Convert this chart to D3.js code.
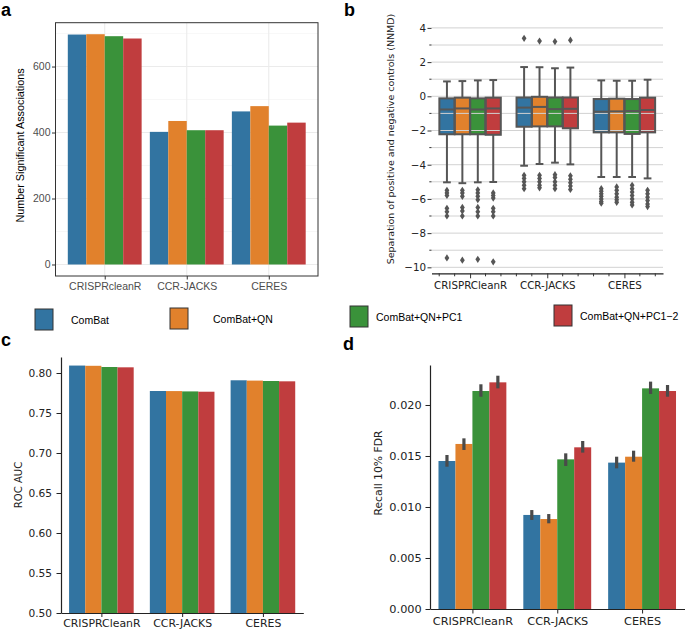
<!DOCTYPE html>
<html><head><meta charset="utf-8">
<script src="https://cdn.jsdelivr.net/npm/d3@7"></script>
<style>body{margin:0;background:#fff} svg{display:block}</style>
</head><body>
<svg id="chart" width="685" height="630"></svg>
<script>
// ---------------- DATA ----------------
const categoriesA = ["CRISPRcleanR", "CCR-JACKS", "CERES"];
const categories = ["CRISPRCleanR", "CCR-JACKS", "CERES"];
const methods = ["ComBat", "ComBat+QN", "ComBat+QN+PC1", "ComBat+QN+PC1\u22122"];
const colors = ["#3274a1", "#e1812c", "#3a923a", "#c03d3e"];

// panel a: Number Significant Associations [category][method]
const assocValues = [[697, 698, 692, 685], [402, 435, 407, 407], [464, 480, 421, 430]];
const aMajorTicks = [0, 200, 400, 600];
const aMinorTicks = [100, 300, 500, 700];

// panel b: boxplot stats [category][method]
const boxWhiskerHigh = [[0.87, 0.89, 0.93, 0.95], [1.71, 1.70, 1.64, 1.68], [0.93, 0.91, 0.91, 0.97]];
const boxQ3 = [[-0.12, -0.08, -0.12, -0.08], [-0.07, -0.03, -0.07, -0.07], [-0.16, -0.14, -0.16, -0.08]];
const boxMedian = [[-0.77, -0.71, -0.77, -0.71], [-0.66, -0.62, -0.75, -0.73], [-0.9, -0.88, -0.86, -0.8]];
const boxQ1 = [[-2.22, -2.22, -2.22, -2.25], [-1.78, -1.76, -1.76, -1.87], [-2.11, -2.11, -2.2, -2.11]];
const boxWhiskerLow = [[-5.03, -5.08, -5.03, -5.01], [-4.06, -3.96, -3.88, -3.98], [-4.72, -4.72, -4.72, -4.8]];
const boxOutliers = [
  [[-5.5, -5.65, -5.8, -6.55, -6.75, -7.0, -9.45],
   [-5.5, -5.65, -5.85, -6.5, -6.7, -7.0, -9.58],
   [-5.47, -5.65, -5.85, -6.05, -6.5, -6.75, -7.0, -9.53],
   [-5.65, -5.8, -5.95, -6.55, -6.75, -7.0, -9.68]],
  [[3.39, -4.62, -4.8, -5.0, -5.2, -5.4],
   [3.23, -4.62, -4.8, -5.0, -5.2, -5.35],
   [3.2, -4.58, -4.75, -5.0, -5.2, -5.4],
   [3.28, -4.65, -4.85, -5.05, -5.25, -5.45]],
  [[-5.4, -5.55, -5.7, -5.85, -6.0, -6.15, -6.25],
   [-5.3, -5.5, -5.7, -5.9, -6.05, -6.2],
   [-5.2, -5.4, -5.6, -5.8, -6.0, -6.2, -6.35],
   [-5.5, -5.7, -5.9, -6.1, -6.3, -6.45]]
];
const bTicks = [-10, -8, -6, -4, -2, 0, 2, 4];
const bMinorTicks = [-9, -7, -5, -3, -1, 1, 3];
const bGrid = [-10, -9, -8, -7, -6, -5, -4, -3, -2, -1, 0, 1, 2, 3, 4];

// panel c: ROC AUC
const rocValues = [[0.8093, 0.8090, 0.8075, 0.8071], [0.7775, 0.7774, 0.7770, 0.7766], [0.7909, 0.7905, 0.7900, 0.7896]];
const cTicks = [0.50, 0.55, 0.60, 0.65, 0.70, 0.75, 0.80];

// panel d: Recall 10% FDR with error bars
const recallValues = [[0.01451, 0.01618, 0.02137, 0.02222], [0.00922, 0.00882, 0.01467, 0.01585], [0.01435, 0.01493, 0.02163, 0.02137]];
const recallLow = [[0.01395, 0.01559, 0.02081, 0.02163], [0.00873, 0.0084, 0.01402, 0.01533], [0.01379, 0.01444, 0.02108, 0.02081]];
const recallHigh = [[0.0151, 0.01673, 0.02203, 0.02287], [0.0097, 0.00931, 0.01526, 0.01647], [0.01493, 0.01552, 0.02229, 0.02196]];
const dTicks = [0.000, 0.005, 0.010, 0.015, 0.020];

// ---------------- DRAW ----------------
const svg = d3.select("#chart");
const SANS = "'Liberation Sans', Arial, sans-serif";
const DJV = "'DejaVu Sans', sans-serif";

function flatBars(values) {
  const out = [];
  values.forEach((row, i) => row.forEach((v, j) => out.push({i, j, v})));
  return out;
}

// panel letters
const letters = [["a", 1, 16], ["b", 344, 16], ["c", 1, 346], ["d", 343, 350]];
svg.selectAll("text.plabel").data(letters).join("text").attr("class", "plabel")
  .attr("x", d => d[1]).attr("y", d => d[2]).text(d => d[0])
  .attr("font-family", SANS).attr("font-weight", "bold").attr("font-size", 18).attr("fill", "#000");

// ===== Panel a (ggplot style) =====
(function () {
  const L = 55.5, R = 318, T = 22.7, B = 276;
  const g = svg.append("g");
  const x = d3.scalePoint().domain(categoriesA).range([L, R]).padding(0.6);
  const step = x.step();
  const maxV = d3.max(assocValues.flat());
  const y = d3.scaleLinear().domain([-0.05 * maxV, maxV * 1.05]).range([B, T]);
  g.selectAll("line.minor").data(aMinorTicks).join("line")
    .attr("x1", L).attr("x2", R).attr("y1", d => y(d)).attr("y2", d => y(d))
    .attr("stroke", "#f2f2f2").attr("stroke-width", 0.6);
  g.selectAll("line.major").data(aMajorTicks).join("line")
    .attr("x1", L).attr("x2", R).attr("y1", d => y(d)).attr("y2", d => y(d))
    .attr("stroke", "#ebebeb").attr("stroke-width", 1.1);
  g.selectAll("line.vmajor").data(categoriesA).join("line")
    .attr("x1", d => x(d)).attr("x2", d => x(d)).attr("y1", T).attr("y2", B)
    .attr("stroke", "#ebebeb").attr("stroke-width", 1.1);
  const bw = 0.9 * step / 4;
  g.selectAll("rect.bar").data(flatBars(assocValues)).join("rect")
    .attr("x", d => x(categoriesA[d.i]) - 0.45 * step + d.j * bw)
    .attr("width", bw).attr("y", d => y(d.v)).attr("height", d => y(0) - y(d.v))
    .attr("fill", d => colors[d.j]);
  g.append("rect").attr("x", L).attr("y", T).attr("width", R - L).attr("height", B - T)
    .attr("fill", "none").attr("stroke", "#333").attr("stroke-width", 1);
  const ya = g.append("g").attr("transform", `translate(${L},0)`)
    .call(d3.axisLeft(y).tickValues(aMajorTicks).tickSize(3.5).tickPadding(1.5));
  ya.select(".domain").remove();
  ya.selectAll("line").attr("stroke", "#333");
  ya.selectAll("text").attr("fill", "#4d4d4d").attr("font-family", SANS).attr("font-size", 10.5);
  const xa = g.append("g").attr("transform", `translate(0,${B})`)
    .call(d3.axisBottom(x).tickSize(3.5).tickPadding(3));
  xa.select(".domain").remove();
  xa.selectAll("line").attr("stroke", "#333");
  xa.selectAll("text").attr("fill", "#4d4d4d").attr("font-family", SANS).attr("font-size", 10.5);
  g.append("text").attr("transform", "rotate(-90)").attr("x", -145.5).attr("y", 24)
    .attr("text-anchor", "middle").attr("font-family", SANS).attr("font-size", 10.8)
    .attr("fill", "#000").text("Number Significant Associations");
})();

// ===== Panel b (boxplots) =====
(function () {
  const L = 431.5, R = 663, T = 19.35, B = 273.3;
  const g = svg.append("g");
  const x = d3.scalePoint().domain(categories).range([L, R]).padding(0.5);
  const step = x.step();
  const y = d3.scaleLinear().domain([-10.35, 4.5]).range([B, T]);
  const bw = 0.8 * step / 4;
  const boxes = [];
  categories.forEach((c, i) => methods.forEach((m, j) => boxes.push({
    i, j, cx: x(c) - 0.4 * step + (j + 0.5) * bw,
    wh: boxWhiskerHigh[i][j], q3: boxQ3[i][j], med: boxMedian[i][j], q1: boxQ1[i][j],
    wl: boxWhiskerLow[i][j], out: boxOutliers[i][j]
  })));
  const grey = "#565656";
  const bwi = bw * 0.98;
  g.selectAll("rect.fill").data(boxes).join("rect")
    .attr("x", d => d.cx - bwi / 2).attr("width", bwi)
    .attr("y", d => y(d.q3)).attr("height", d => y(d.q1) - y(d.q3))
    .attr("fill", d => colors[d.j]);
  g.selectAll("line.grid").data(bGrid).join("line")
    .attr("x1", L).attr("x2", R).attr("y1", d => y(d)).attr("y2", d => y(d))
    .attr("stroke", "#d2d2d2").attr("stroke-width", 1);
  g.selectAll("line.wup").data(boxes).join("line")
    .attr("x1", d => d.cx).attr("x2", d => d.cx).attr("y1", d => y(d.q3)).attr("y2", d => y(d.wh))
    .attr("stroke", grey).attr("stroke-width", 2);
  g.selectAll("line.wdn").data(boxes).join("line")
    .attr("x1", d => d.cx).attr("x2", d => d.cx).attr("y1", d => y(d.q1)).attr("y2", d => y(d.wl))
    .attr("stroke", grey).attr("stroke-width", 2);
  g.selectAll("line.capu").data(boxes).join("line")
    .attr("x1", d => d.cx - bw / 4).attr("x2", d => d.cx + bw / 4).attr("y1", d => y(d.wh)).attr("y2", d => y(d.wh))
    .attr("stroke", grey).attr("stroke-width", 2);
  g.selectAll("line.capd").data(boxes).join("line")
    .attr("x1", d => d.cx - bw / 4).attr("x2", d => d.cx + bw / 4).attr("y1", d => y(d.wl)).attr("y2", d => y(d.wl))
    .attr("stroke", grey).attr("stroke-width", 2);
  g.selectAll("rect.outl").data(boxes).join("rect")
    .attr("x", d => d.cx - bwi / 2).attr("width", bwi)
    .attr("y", d => y(d.q3)).attr("height", d => y(d.q1) - y(d.q3))
    .attr("fill", "none").attr("stroke", grey).attr("stroke-width", 2);
  g.selectAll("line.med").data(boxes).join("line")
    .attr("x1", d => d.cx - bwi / 2).attr("x2", d => d.cx + bwi / 2).attr("y1", d => y(d.med)).attr("y2", d => y(d.med))
    .attr("stroke", grey).attr("stroke-width", 2);
  const outs = [];
  boxes.forEach(b => b.out.forEach(v => outs.push({cx: b.cx, v})));
  g.selectAll("path.out").data(outs).join("path")
    .attr("d", "M0,-3.6L2.4,0L0,3.6L-2.4,0Z")
    .attr("transform", d => `translate(${d.cx},${y(d.v)})`)
    .attr("fill", grey);
  const ya = g.append("g").attr("transform", `translate(${L},0)`)
    .call(d3.axisLeft(y).tickValues(bTicks).tickSize(4).tickPadding(1.5).tickFormat(d3.format("d")));
  ya.select(".domain").remove();
  ya.selectAll("line").attr("stroke", "#333");
  ya.selectAll("text").attr("fill", "#222").attr("font-family", DJV).attr("font-size", 10.3);
  g.selectAll("line.yminor").data(bMinorTicks).join("line")
    .attr("x1", L - 2.2).attr("x2", L).attr("y1", d => y(d)).attr("y2", d => y(d))
    .attr("stroke", "#333").attr("stroke-width", 1);
  const xa = g.append("g").attr("transform", `translate(0,${B})`)
    .call(d3.axisBottom(x).tickSize(5).tickPadding(3.4).tickSizeOuter(0));
  xa.select(".domain").attr("stroke", "#222").attr("stroke-width", 1.2);
  xa.selectAll("line").attr("stroke", "#333");
  xa.selectAll("text").attr("fill", "#222").attr("font-family", DJV).attr("font-size", 10.3);
  const minorX = [];
  categories.forEach(c => { for (let k = 0; k <= 4; k++) if (k !== 2) minorX.push(x(c) - 0.4 * step + k * bw); });
  g.selectAll("line.xminor").data(minorX).join("line")
    .attr("x1", d => d).attr("x2", d => d).attr("y1", B).attr("y2", B + 3)
    .attr("stroke", "#333").attr("stroke-width", 1);
  g.append("text").attr("transform", "rotate(-90)").attr("x", -139).attr("y", 393.5)
    .attr("text-anchor", "middle").attr("font-family", DJV).attr("font-size", 9.5)
    .attr("fill", "#222").text("Separation of positive and negative controls (NNMD)");
})();

// ===== Legend =====
(function () {
  const legendX = [35, 170, 350, 554];
  const legendY = [309, 308, 306, 305];
  const g = svg.append("g");
  const items = methods.map((m, j) => ({m, j}));
  g.selectAll("rect").data(items).join("rect")
    .attr("x", d => legendX[d.j]).attr("y", d => legendY[d.j]).attr("width", 18).attr("height", 21)
    .attr("fill", d => colors[d.j]).attr("stroke", "#333").attr("stroke-width", 1);
  g.selectAll("text").data(items).join("text")
    .attr("x", d => legendX[d.j] + 18 + [18, 25, 8, 8][d.j])
    .attr("y", d => legendY[d.j] + 11).attr("dy", "0.35em")
    .attr("font-family", SANS).attr("font-size", 10.5).attr("fill", "#000").text(d => d.m);
})();

// ===== Panel c =====
(function () {
  const L = 61, R = 303.3, T = 357, B = 613;
  const g = svg.append("g");
  const x = d3.scalePoint().domain(categories).range([L, R]).padding(0.5);
  const step = x.step();
  const y = d3.scaleLinear().domain([0.5, 0.82]).range([B, T]);
  const bw = 0.8 * step / 4;
  g.selectAll("rect.bar").data(flatBars(rocValues)).join("rect")
    .attr("x", d => x(categories[d.i]) - 0.4 * step + d.j * bw)
    .attr("width", bw).attr("y", d => y(d.v)).attr("height", d => y(0.5) - y(d.v))
    .attr("fill", d => colors[d.j]);
  const ya = g.append("g").attr("transform", `translate(${L},0)`)
    .call(d3.axisLeft(y).tickValues(cTicks).tickSize(4.5).tickPadding(4.5).tickSizeOuter(0).tickFormat(d3.format(".2f")));
  ya.select(".domain").attr("stroke", "#222").attr("stroke-width", 1.2);
  ya.selectAll("line").attr("stroke", "#222");
  ya.selectAll("text").attr("fill", "#222").attr("font-family", DJV).attr("font-size", 10.6);
  const xa = g.append("g").attr("transform", `translate(0,${B})`)
    .call(d3.axisBottom(x).tickSize(4).tickPadding(2.6).tickSizeOuter(0));
  xa.select(".domain").attr("stroke", "#222").attr("stroke-width", 1.2);
  xa.selectAll("line").attr("stroke", "#222");
  xa.selectAll("text").attr("fill", "#222").attr("font-family", DJV).attr("font-size", 10.9);
  g.append("text").attr("transform", "rotate(-90)").attr("x", -485).attr("y", 21.7)
    .attr("text-anchor", "middle").attr("font-family", DJV).attr("font-size", 10.1)
    .attr("fill", "#222").text("ROC AUC");
})();

// ===== Panel d =====
(function () {
  const L = 430, R = 684.5, T = 365, B = 609;
  const g = svg.append("g");
  const x = d3.scalePoint().domain(categories).range([L, R]).padding(0.5);
  const step = x.step();
  const y = d3.scaleLinear().domain([0, 0.02392]).range([B, T]);
  const bw = 0.8 * step / 4;
  const bars = flatBars(recallValues);
  g.selectAll("rect.bar").data(bars).join("rect")
    .attr("x", d => x(categories[d.i]) - 0.4 * step + d.j * bw)
    .attr("width", bw).attr("y", d => y(d.v)).attr("height", d => y(0) - y(d.v))
    .attr("fill", d => colors[d.j]);
  g.selectAll("line.err").data(bars).join("line")
    .attr("x1", d => x(categories[d.i]) - 0.4 * step + (d.j + 0.5) * bw)
    .attr("x2", d => x(categories[d.i]) - 0.4 * step + (d.j + 0.5) * bw)
    .attr("y1", d => y(recallLow[d.i][d.j])).attr("y2", d => y(recallHigh[d.i][d.j]))
    .attr("stroke", "#4a4a4a").attr("stroke-width", 3.2);
  const ya = g.append("g").attr("transform", `translate(${L},0)`)
    .call(d3.axisLeft(y).tickValues(dTicks).tickSize(4.5).tickPadding(3.8).tickSizeOuter(0).tickFormat(d3.format(".3f")));
  ya.select(".domain").attr("stroke", "#222").attr("stroke-width", 1.2);
  ya.selectAll("line").attr("stroke", "#222");
  ya.selectAll("text").attr("fill", "#222").attr("font-family", DJV).attr("font-size", 11.3);
  const xa = g.append("g").attr("transform", `translate(0,${B})`)
    .call(d3.axisBottom(x).tickSize(4.5).tickPadding(3.5).tickSizeOuter(0));
  xa.select(".domain").attr("stroke", "#222").attr("stroke-width", 1.2);
  xa.selectAll("line").attr("stroke", "#222");
  xa.selectAll("text").attr("fill", "#222").attr("font-family", DJV).attr("font-size", 11.3);
  g.append("text").attr("transform", "rotate(-90)").attr("x", -473).attr("y", 382)
    .attr("text-anchor", "middle").attr("font-family", DJV).attr("font-size", 10.8)
    .attr("fill", "#222").text("Recall 10% FDR");
})();
</script>
</body></html>
